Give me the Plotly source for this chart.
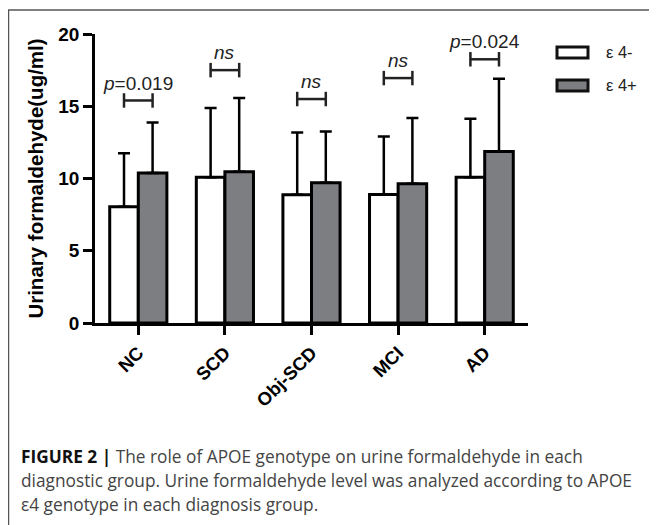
import plotly.graph_objects as go

# ---- data ----
categories = ["NC", "SCD", "Obj-SCD", "MCI", "AD"]
e4_neg_mean = [8.05, 10.08, 8.88, 8.90, 10.08]
e4_neg_err = [3.70, 4.80, 4.30, 4.00, 4.05]
e4_pos_mean = [10.38, 10.47, 9.71, 9.64, 11.86]
e4_pos_err = [3.50, 5.10, 3.55, 4.55, 5.05]
sig_labels = ["<i>p</i>=0.019", "<i>ns</i>", "<i>ns</i>", "<i>ns</i>", "<i>p</i>=0.024"]
sig_levels = [15.4, 17.5, 15.5, 16.95, 18.25]
y_ticks = [0, 5, 10, 15, 20]
series_names = ["ε 4-", "ε 4+"]

# ---- layout geometry (pixels; page body has an 8px margin) ----
OFF = 8
W, H = 657 - OFF, 525 - OFF
PLOT_L, PLOT_R, PLOT_T, PLOT_B = 95, 528, 34, 323  # target page pixels
L, T = PLOT_L - OFF, PLOT_T - OFF
R, B = 657 - PLOT_R, 525 - PLOT_B
PW, PH = W - L - R, H - T - B


def px(xp):
    return (xp - PLOT_L) / PW


def py(yp):
    return (PLOT_B - yp) / PH


FONT = "Arial, Liberation Sans, Helvetica, sans-serif"
CAP_FONT = "Open Sans, Arial, sans-serif"
GRAY = "#7d7e82"
xs = list(range(len(categories)))
half = 0.165

fig = go.Figure()
fig.add_trace(go.Bar(
    x=xs, y=e4_neg_mean, name=series_names[0],
    marker=dict(color="white", line=dict(color="black", width=3)),
    error_y=dict(type="data", symmetric=False, array=e4_neg_err,
                 arrayminus=[0] * len(xs), color="black", thickness=2.5, width=6),
    showlegend=False,
))
fig.add_trace(go.Bar(
    x=xs, y=e4_pos_mean, name=series_names[1],
    marker=dict(color=GRAY, line=dict(color="black", width=3)),
    error_y=dict(type="data", symmetric=False, array=e4_pos_err,
                 arrayminus=[0] * len(xs), color="black", thickness=2.5, width=6),
    showlegend=False,
))

# significance brackets
bx, by = [], []
for i, lvl in enumerate(sig_levels):
    a, b = i - half, i + half
    bx += [a, a, None, a, b, None, b, b, None]
    by += [lvl - 0.5, lvl + 0.5, None, lvl, lvl, None, lvl - 0.5, lvl + 0.5, None]
fig.add_trace(go.Scatter(x=bx, y=by, mode="lines", line=dict(color="#222", width=2.5),
                         showlegend=False, hoverinfo="skip", cliponaxis=False))

for i, (lab, lvl) in enumerate(zip(sig_labels, sig_levels)):
    fig.add_annotation(x=i, y=lvl + 1.2, text=lab, showarrow=False,
                       font=dict(family=FONT, size=19, color="#222"),
                       xanchor="center", yanchor="middle")

# legend (drawn manually to mimic wide swatches)
shapes = []
for k, (fill, yc) in enumerate([("white", 52.5), (GRAY, 85.5)]):
    shapes.append(dict(type="rect", xref="paper", yref="paper",
                       x0=px(557), x1=px(588), y0=py(yc - 5.5), y1=py(yc + 5.5),
                       fillcolor=fill, line=dict(color="#111", width=3)))
    fig.add_annotation(xref="paper", yref="paper", x=px(604), y=py(yc),
                       text=series_names[k], showarrow=False, xanchor="left",
                       yanchor="middle", font=dict(family=FONT, size=16.5, color="#222"))

# frame lines
shapes.append(dict(type="line", xref="paper", yref="paper", x0=px(8), x1=px(660),
                   y0=py(10), y1=py(10), line=dict(color="#555", width=1.5)))
shapes.append(dict(type="line", xref="paper", yref="paper", x0=px(8.5), x1=px(8.5),
                   y0=py(10), y1=py(530), line=dict(color="#555", width=1.5)))

# caption
cap = [
    "<b><span style='color:#111'>FIGURE 2 |</span></b> The role of APOE genotype on urine formaldehyde in each",
    "diagnostic group. Urine formaldehyde level was analyzed according to APOE",
    "ε4 genotype in each diagnosis group.",
]
for j, line in enumerate(cap):
    fig.add_annotation(xref="paper", yref="paper", x=px(19), y=py(456 + 24 * j),
                       text=line, showarrow=False, xanchor="left", yanchor="middle",
                       font=dict(family=CAP_FONT, size=17.3, color="#444"))

fig.update_layout(
    width=W, height=H,
    margin=dict(l=L, r=R, t=T, b=B, autoexpand=False),
    paper_bgcolor="white", plot_bgcolor="white",
    barmode="group", bargap=0.34, bargroupgap=0,
    shapes=shapes,
    showlegend=False,
    font=dict(family=FONT, color="black"),
)
fig.update_xaxes(
    range=[-0.5, 4.5], tickvals=xs, ticktext=categories, tickangle=-45,
    showline=True, linecolor="black", linewidth=2.5, ticks="outside",
    ticklen=9, tickwidth=2.5, tickcolor="black", showgrid=False, zeroline=False,
    tickfont=dict(family=FONT, size=18.5, color="black", weight="bold"),
)
fig.update_yaxes(
    range=[0, 20], tickvals=y_ticks, showline=True, linecolor="black", linewidth=2.5,
    ticks="outside", ticklen=9, tickwidth=2.5, tickcolor="black", showgrid=False,
    zeroline=False, tickfont=dict(family=FONT, size=19, color="black", weight="bold"),
    title=dict(text="Urinary formaldehyde(ug/ml)", standoff=10,
               font=dict(family=FONT, size=20.5, color="black", weight="bold")),
)

fig.write_html("out.html")
